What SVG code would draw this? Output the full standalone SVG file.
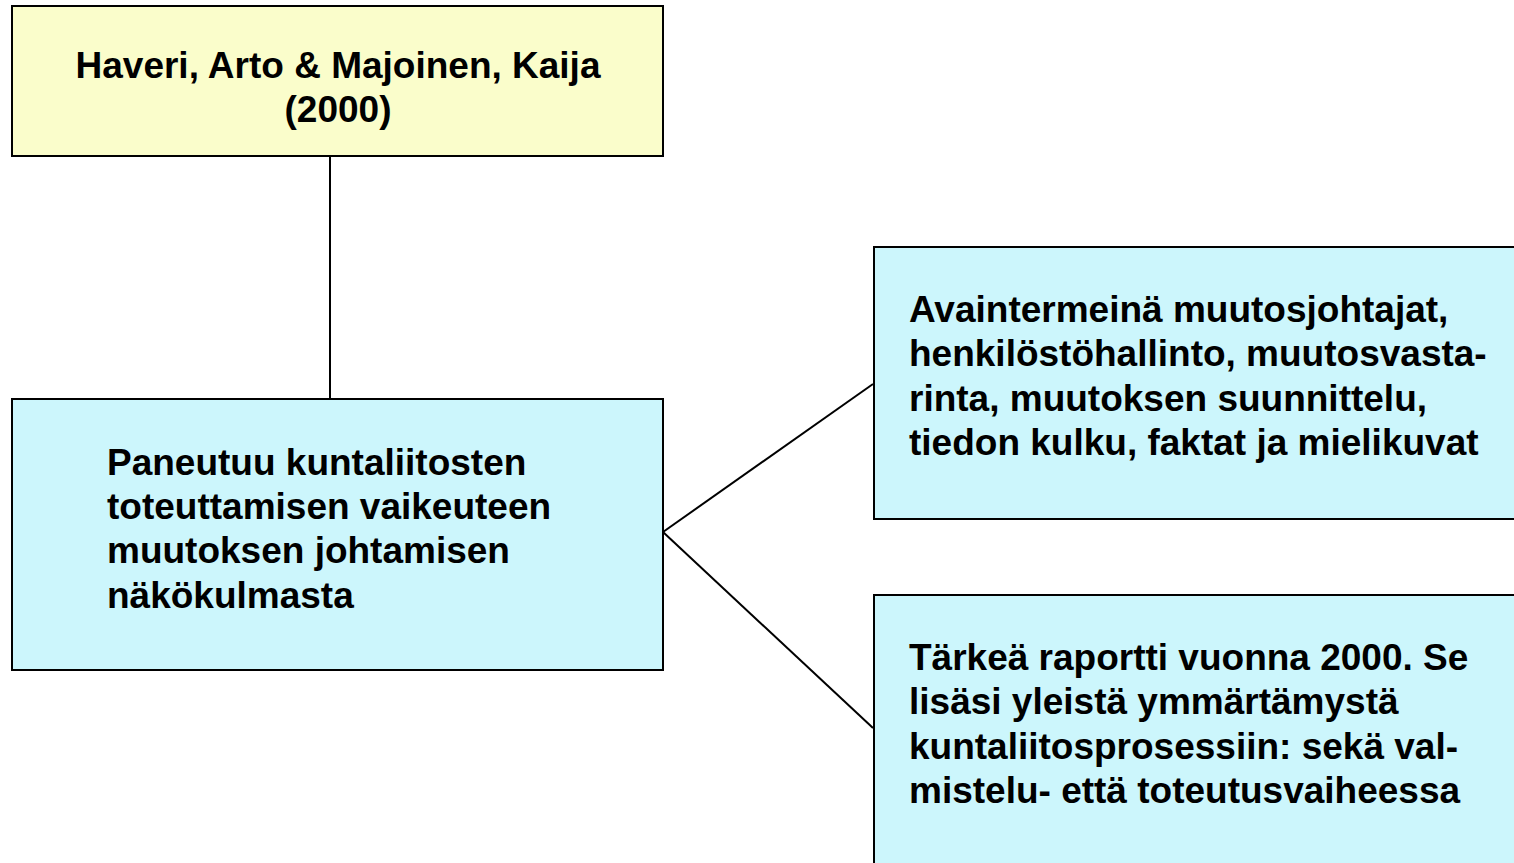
<svg xmlns="http://www.w3.org/2000/svg" width="1514" height="863" viewBox="0 0 1514 863">
<style>
.box{stroke:#000;stroke-width:2}
.y{fill:#FAFDCB}
.c{fill:#CCF6FC}
.t{font-family:"Liberation Sans",Arial,sans-serif;font-weight:bold;font-size:37px;fill:#000}
.ln{stroke:#000;stroke-width:2;fill:none}
</style>
<rect width="1514" height="863" fill="#fff"/>
<g id="connectors">
<line class="ln" x1="330" y1="156" x2="330" y2="398"/>
<line class="ln" x1="663" y1="532" x2="873" y2="384"/>
<line class="ln" x1="663" y1="532" x2="873" y2="728"/>
</g>
<g id="n-author">
<rect class="box y" x="12" y="6" width="651" height="150"/>
<text class="t" x="338" y="78" text-anchor="middle">Haveri, Arto &amp; Majoinen, Kaija</text>
<text class="t" x="338" y="122" text-anchor="middle">(2000)</text>
</g>
<g id="n-main">
<rect class="box c" x="12" y="399" width="651" height="271"/>
<text class="t" x="107" y="475">Paneutuu kuntaliitosten</text>
<text class="t" x="107" y="519">toteuttamisen vaikeuteen</text>
<text class="t" x="107" y="563">muutoksen johtamisen</text>
<text class="t" x="107" y="608">näkökulmasta</text>
</g>
<g id="n-terms">
<rect class="box c" x="874" y="247" width="660" height="272"/>
<text class="t" x="909" y="322">Avaintermeinä muutosjohtajat,</text>
<text class="t" x="909" y="366">henkilöstöhallinto, muutosvasta-</text>
<text class="t" x="909" y="411">rinta, muutoksen suunnittelu,</text>
<text class="t" x="909" y="455">tiedon kulku, faktat ja mielikuvat</text>
</g>
<g id="n-report">
<rect class="box c" x="874" y="595" width="660" height="300"/>
<text class="t" x="909" y="670">Tärkeä raportti vuonna 2000. Se</text>
<text class="t" x="909" y="714">lisäsi yleistä ymmärtämystä</text>
<text class="t" x="909" y="759">kuntaliitosprosessiin: sekä val-</text>
<text class="t" x="909" y="803">mistelu- että toteutusvaiheessa</text>
</g>
</svg>
